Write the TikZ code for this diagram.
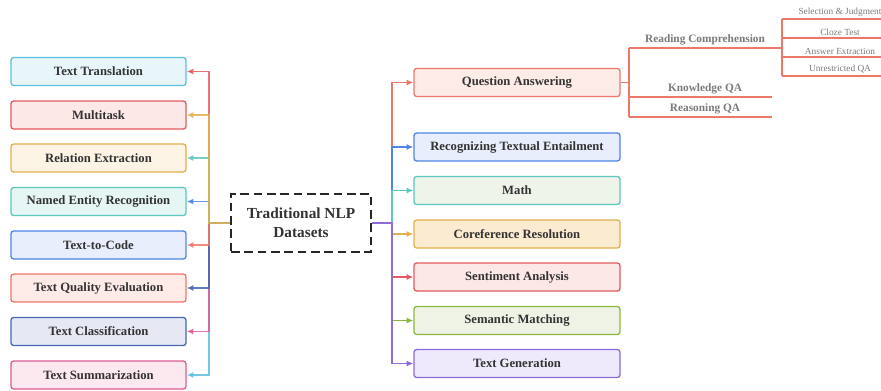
\documentclass[tikz,border=0pt]{standalone}
\usepackage{fontspec}
\setmainfont{Liberation Serif}
\usetikzlibrary{arrows.meta}

% palette
\definecolor{cRed}{HTML}{E05B61}
\definecolor{cRedF}{HTML}{FDE8E8}
\definecolor{cSal}{HTML}{EC7868}
\definecolor{cSalF}{HTML}{FDEBE8}
\definecolor{cCyan}{HTML}{5BC0DE}
\definecolor{cCyanF}{HTML}{E8F6FB}
\definecolor{cGold}{HTML}{E2B04E}
\definecolor{cGoldF}{HTML}{FDF4E6}
\definecolor{cGoldF2}{HTML}{FBEBD0}
\definecolor{cTeal}{HTML}{5CC8BE}
\definecolor{cTealF}{HTML}{E6F6F4}
\definecolor{cTealF2}{HTML}{EEF4EA}
\definecolor{cBlue}{HTML}{4F86E6}
\definecolor{cBlueF}{HTML}{E8EEFB}
\definecolor{cNavy}{HTML}{4767B4}
\definecolor{cNavyF}{HTML}{E6E9F4}
\definecolor{cPink}{HTML}{DD5C93}
\definecolor{cPinkF}{HTML}{FCE8EF}
\definecolor{cGreen}{HTML}{8DB83E}
\definecolor{cGreenF}{HTML}{EEF3E6}
\definecolor{cPurple}{HTML}{8E6BD8}
\definecolor{cPurpleF}{HTML}{EEEAFB}
\definecolor{txt}{HTML}{333333}
\definecolor{subtxt}{HTML}{7A7A7A}
\definecolor{subline}{HTML}{EC7868}

\tikzset{
  catbox/.style={draw, rounded corners=2pt, line width=1pt, align=center,
    font=\fontsize{9.5pt}{11pt}\selectfont\bfseries, text=txt,
    minimum height=21pt, inner sep=0pt},
  lbox/.style={catbox, minimum width=131.25pt},
  rbox/.style={catbox, minimum width=154.5pt},
  rootbox/.style={draw=black!85, line width=1.5pt, dash pattern=on 6.5pt off 3.5pt,
    minimum width=105pt, minimum height=43.5pt, align=center, inner sep=0pt,
    font=\fontsize{11.5pt}{14pt}\selectfont\bfseries, text=txt},
  conn/.style={line width=1pt, -{Latex[length=5pt,width=4.5pt]}},
  lconn/.style={conn, draw opacity=0.85},
  subedge/.style={line width=1pt, draw=subline},
  sublabel/.style={font=\fontsize{8.5pt}{10pt}\selectfont\bfseries, text=subtxt,
    anchor=south, inner sep=1.5pt},
  leaflabel/.style={font=\fontsize{7pt}{8pt}\selectfont, text=subtxt,
    anchor=south, inner sep=1.5pt},
}

\begin{document}
\begin{tikzpicture}[x=0.75pt,y=-0.75pt]
\useasboundingbox (0,0) rectangle (881,390);

% root
\node[rootbox] (root) at (301,223) {Traditional NLP\\Datasets};

% left categories
\node[lbox, draw=cCyan,  fill=cCyanF]  (tt)  at (98.5,71.5)  {Text Translation};
\node[lbox, draw=cRed,   fill=cRedF]   (mt)  at (98.5,115)   {Multitask};
\node[lbox, draw=cGold,  fill=cGoldF]  (re)  at (98.5,158)   {Relation Extraction};
\node[lbox, draw=cTeal,  fill=cTealF]  (ner) at (98.5,201.5) {Named Entity Recognition};
\node[lbox, draw=cBlue,  fill=cBlueF]  (t2c) at (98.5,245)   {Text-to-Code};
\node[lbox, draw=cSal,   fill=cSalF]   (tqe) at (98.5,288)   {Text Quality Evaluation};
\node[lbox, draw=cNavy,  fill=cNavyF]  (tc)  at (98.5,331.5) {Text Classification};
\node[lbox, draw=cPink,  fill=cPinkF]  (ts)  at (98.5,375)   {Text Summarization};

% right categories
\node[rbox, draw=cSal,    fill=cSalF]    (qa)  at (517,82.5)  {Question Answering};
\node[rbox, draw=cBlue,   fill=cBlueF]   (rte) at (517,147)   {Recognizing Textual Entailment};
\node[rbox, draw=cTeal,   fill=cTealF2]  (ma)  at (517,190.5) {Math};
\node[rbox, draw=cGold,   fill=cGoldF2]  (cr)  at (517,234)   {Coreference Resolution};
\node[rbox, draw=cRed,    fill=cRedF]    (sa)  at (517,277)   {Sentiment Analysis};
\node[rbox, draw=cGreen,  fill=cGreenF]  (sm)  at (517,320.5) {Semantic Matching};
\node[rbox, draw=cPurple, fill=cPurpleF] (tg)  at (517,363.5) {Text Generation};

% junctions
\coordinate (lj) at (209,223);
\coordinate (rj) at (392,223);

% left connectors (drawing order sets which colour shows on the shared trunk)
\draw[lconn, cCyan]  (root.west) -- (lj) |- (ts.east);
\draw[lconn, cPink]  (root.west) -- (lj) |- (tc.east);
\draw[lconn, cNavy]  (root.west) -- (lj) |- (tqe.east);
\draw[lconn, cSal]   (root.west) -- (lj) |- (t2c.east);
\draw[lconn, cRed]   (root.west) -- (lj) |- (tt.east);
\draw[lconn, cBlue]  (root.west) -- (lj) |- (ner.east);
\draw[lconn, cTeal]  (root.west) -- (lj) |- (re.east);
\draw[lconn, cGold]  (root.west) -- (lj) |- (mt.east);

% right connectors
\draw[conn, cSal]    (root.east) -- (rj) |- (qa.west);
\draw[conn, cBlue]   (root.east) -- (rj) |- (rte.west);
\draw[conn, cTeal]   (root.east) -- (rj) |- (ma.west);
\draw[conn, cGold]   (root.east) -- (rj) |- (cr.west);
\draw[conn, cRed]    (root.east) -- (rj) |- (sa.west);
\draw[conn, cGreen]  (root.east) -- (rj) |- (sm.west);
\draw[conn, cPurple] (root.east) -- (rj) |- (tg.west);

% question answering sub-tree
\coordinate (qj)  at (629,82.5);
\coordinate (rcA) at (629,48);
\coordinate (rcB) at (782,48);
\coordinate (kqA) at (629,97);
\coordinate (kqB) at (772,97);
\coordinate (rqA) at (629,117);
\coordinate (rqB) at (772,117);
\draw[subedge] (qa.east) -- (qj);
\draw[subedge] (rcA) -- (rqA);
\draw[subedge] (rcA) -- (rcB);
\draw[subedge] (kqA) -- (kqB);
\draw[subedge] (rqA) -- (rqB);
\node[sublabel] (rc) at (705,47) {Reading Comprehension};
\node[sublabel] (kq) at (705,96) {Knowledge QA};
\node[sublabel] (rq) at (705,116) {Reasoning QA};

% reading comprehension leaves
\coordinate (l1) at (782,19);
\coordinate (l4) at (782,76);
\draw[subedge] (l1) -- (l4);
\foreach \yy in {19,38,57,76} \draw[subedge] (782,\yy) -- (895,\yy);
\node[leaflabel] (sj) at (840,18.5) {Selection \& Judgment};
\node[leaflabel] (ct) at (840,37.5) {Cloze Test};
\node[leaflabel] (ae) at (840,56.5) {Answer Extraction};
\node[leaflabel] (uq) at (840,75.5) {Unrestricted QA};
\end{tikzpicture}
\end{document}
